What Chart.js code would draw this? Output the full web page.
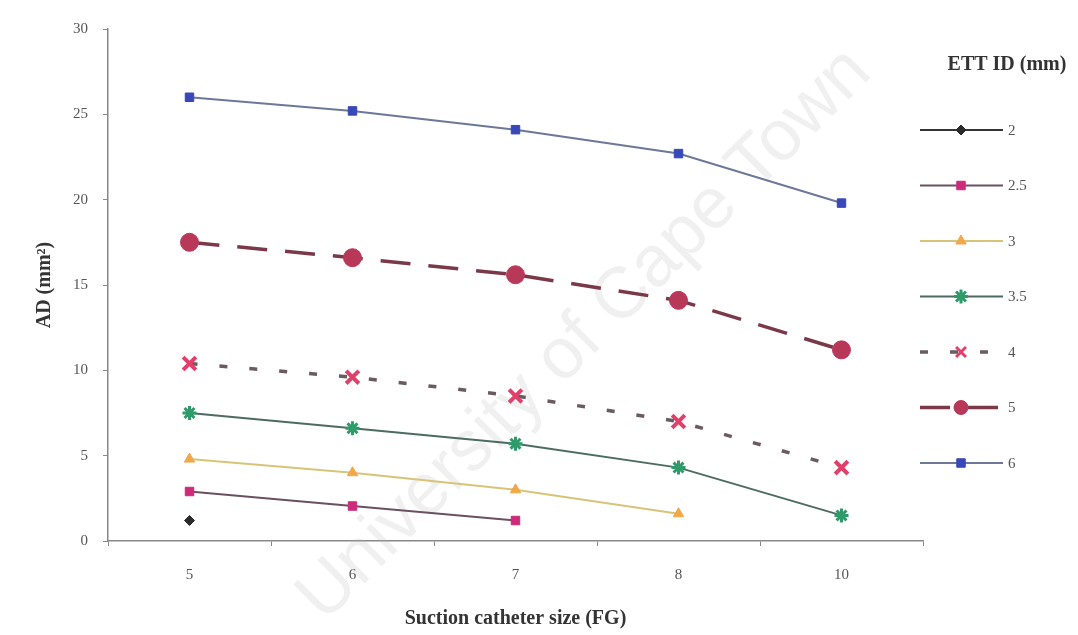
<!DOCTYPE html>
<html>
<head>
<meta charset="utf-8">
<script src="https://cdn.jsdelivr.net/npm/chart.js@4/dist/chart.umd.min.js"></script>
<style>
  html, body { margin: 0; padding: 0; background: #fff; }
  #wrap { width: 1078px; height: 635px; }
</style>
</head>
<body>
<div id="wrap"><canvas id="chart" width="1078" height="635"></canvas></div>
<script>
// suction catheter sizes (FG)
const categories = ['5', '6', '7', '8', '10'];
// ETT internal diameters (mm), one series each
const seriesNames = ['2', '2.5', '3', '3.5', '4', '5', '6'];
const ett2   = [1.2, null, null, null, null];
const ett2_5 = [2.9, 2.05, 1.2, null, null];
const ett3   = [4.8, 4.0, 3.0, 1.6, null];
const ett3_5 = [7.5, 6.6, 5.7, 4.3, 1.5];
const ett4   = [10.4, 9.6, 8.5, 7.0, 4.3];
const ett5   = [17.5, 16.6, 15.6, 14.1, 11.2];
const ett6   = [26.0, 25.2, 24.1, 22.7, 19.8];
const yTicks = [0, 5, 10, 15, 20, 25, 30];

const serif = "'Liberation Serif', 'DejaVu Serif', serif";

function ds(label, data, line, marker, style, radius, extra) {
    return Object.assign({
        label, data,
        borderColor: line,
        backgroundColor: marker,
        pointBackgroundColor: marker,
        pointBorderColor: marker,
        pointStyle: style,
        pointRadius: radius,
        pointBorderWidth: 1,
        borderWidth: 2,
        tension: 0,
        fill: false
    }, extra || {});
}

const datasets = [
    ds(seriesNames[0], ett2,   '#333333', '#2a2a2a', 'rectRot', 5),
    ds(seriesNames[1], ett2_5, '#6b5060', '#cc2a7a', 'rect', 6),
    ds(seriesNames[2], ett3,   '#d8c478', '#f0a848', 'triangle', 6),
    ds(seriesNames[3], ett3_5, '#4d6b60', '#2f9a6a', 'star', 7, { pointBorderWidth: 3 }),
    ds(seriesNames[4], ett4,   '#6a5a62', '#e0406a', 'crossRot', 9, { pointBorderWidth: 4, borderWidth: 3.5, borderDash: [8, 22] }),
    ds(seriesNames[5], ett5,   '#7a3848', '#b8385a', 'circle', 9, { borderWidth: 3.5, borderDash: [30, 18] }),
    ds(seriesNames[6], ett6,   '#6c7898', '#3848b8', 'rect', 6)
];

// faint diagonal watermark behind the plot
const watermark = {
    id: 'watermark',
    beforeDatasetsDraw(chart) {
        const ctx = chart.ctx;
        ctx.save();
        ctx.translate(585, 335);
        ctx.rotate(-Math.PI / 4);
        ctx.font = "72px 'Liberation Sans', sans-serif";
        ctx.fillStyle = 'rgba(180,180,180,0.2)';
        ctx.textAlign = 'center';
        ctx.textBaseline = 'middle';
        ctx.fillText('University of Cape Town', 0, 0);
        ctx.restore();
    }
};

// legend on the right: line segment + marker + label
const sideLegend = {
    id: 'sideLegend',
    afterDraw(chart) {
        const ctx = chart.ctx;
        ctx.save();
        ctx.font = 'bold 20px ' + serif;
        ctx.fillStyle = '#333';
        ctx.textAlign = 'center';
        ctx.textBaseline = 'middle';
        ctx.fillText('ETT ID (mm)', 1007, 65);

        chart.data.datasets.forEach((d, i) => {
            const y = 130 + i * 55.5;
            ctx.save();
            ctx.strokeStyle = d.borderColor;
            ctx.lineWidth = d.borderWidth;
            ctx.setLineDash(d.borderDash || []);
            ctx.beginPath();
            ctx.moveTo(920, y);
            ctx.lineTo(1003, y);
            ctx.stroke();
            ctx.restore();

            ctx.save();
            ctx.fillStyle = d.pointBackgroundColor;
            ctx.strokeStyle = d.pointBorderColor;
            ctx.lineWidth = Math.min(d.pointBorderWidth, 3);
            Chart.helpers.drawPoint(ctx, {
                pointStyle: d.pointStyle,
                radius: Math.min(d.pointRadius, 7),
                rotation: 0,
                borderWidth: Math.min(d.pointBorderWidth, 3)
            }, 961, y);
            ctx.restore();

            ctx.font = '15px ' + serif;
            ctx.fillStyle = '#555';
            ctx.textAlign = 'left';
            ctx.fillText(d.label, 1008, y + 1);
        });
        ctx.restore();
    }
};

new Chart(document.getElementById('chart'), {
    type: 'line',
    data: { labels: categories, datasets },
    plugins: [watermark, sideLegend],
    options: {
        responsive: false,
        animation: false,
        layout: { padding: { top: 29, right: 155, left: 0, bottom: 0 } },
        plugins: { legend: { display: false }, tooltip: { enabled: false } },
        scales: {
            x: {
                type: 'category',
                offset: true,
                afterFit: s => { s.height = 94; },
                grid: { drawOnChartArea: false, offset: true, tickLength: 5, color: '#888' },
                border: { display: true, color: '#888', width: 1.5 },
                ticks: { padding: 20, color: '#555', font: { family: serif, size: 15 } },
                title: {
                    display: true,
                    text: 'Suction catheter size (FG)',
                    color: '#333',
                    font: { family: serif, size: 20, weight: 'bold' },
                    padding: { top: 0, bottom: 4 }
                }
            },
            y: {
                min: 0, max: 30,
                afterFit: s => { s.width = 108; },
                afterBuildTicks: s => { s.ticks = yTicks.map(v => ({ value: v })); },
                grid: { drawOnChartArea: false, tickLength: 5, color: '#888' },
                border: { display: true, color: '#888', width: 1.5 },
                ticks: { padding: 15, color: '#555', font: { family: serif, size: 15 } },
                title: {
                    display: true,
                    text: 'AD (mm²)',
                    color: '#333',
                    font: { family: serif, size: 20, weight: 'bold' },
                    padding: { top: 33, bottom: 0 }
                }
            }
        }
    }
});
</script>
</body>
</html>
